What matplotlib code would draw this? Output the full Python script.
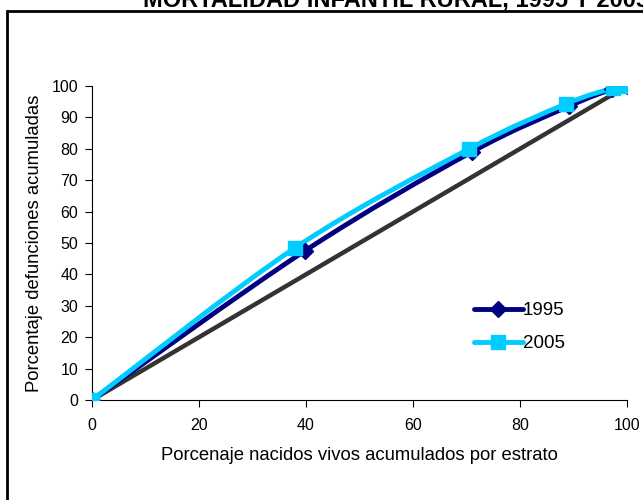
import numpy as np
import matplotlib
matplotlib.use('Agg')
import matplotlib.pyplot as plt
from matplotlib.path import Path
from matplotlib.patches import PathPatch, Rectangle
from matplotlib.lines import Line2D

plt.rcParams['font.family'] = ['Liberation Sans', 'DejaVu Sans']

# Cumulative births (x) vs cumulative infant deaths (y), by stratum
x_1995 = [0, 39.8, 71.0, 89.2, 97.2, 100]
y_1995 = [0, 47.5, 79.0, 93.6, 99.0, 100]
x_2005 = [0, 37.9, 70.5, 88.6, 97.4, 100]
y_2005 = [0, 48.4, 80.0, 94.3, 99.3, 100]
x_equal = [0, 100]
y_equal = [0, 100]

title = 'MORTALIDAD INFANTIL RURAL, 1995 Y 2005'
xlabel = 'Porcenaje nacidos vivos acumulados por estrato'
ylabel = 'Porcentaje defunciones acumuladas'


def smooth_path(xs, ys, tension=1 / 6):
    """Catmull-Rom style smoothing expressed as cubic Bezier segments."""
    pts = np.column_stack([xs, ys]).astype(float)
    verts = [pts[0]]
    codes = [Path.MOVETO]
    n = len(pts)
    for i in range(n - 1):
        p0 = pts[i - 1] if i > 0 else pts[i]
        p1 = pts[i]
        p2 = pts[i + 1]
        p3 = pts[i + 2] if i + 2 < n else pts[i + 1]
        c1 = p1 + (p2 - p0) * tension
        c2 = p2 - (p3 - p1) * tension
        verts += [c1, c2, p2]
        codes += [Path.CURVE4] * 3
    return Path(verts, codes)


fig = plt.figure(figsize=(6.43, 5.0), dpi=100)
ax = fig.add_axes([92 / 643, 100 / 500, 535 / 643, 314 / 500])

# equality line
ax.plot(x_equal, y_equal, color='#333333', lw=3.2, solid_capstyle='butt', zorder=2)

series = [
    (x_1995, y_1995, '#000080', 'D', 8, '1995'),
    (x_2005, y_2005, '#00CCFF', 's', 10, '2005'),
]
handles = []
for xs, ys, col, mk, ms, lab in series:
    patch = PathPatch(smooth_path(xs, ys), facecolor='none', edgecolor=col,
                      lw=3.5, zorder=3, capstyle='round')
    ax.add_patch(patch)
    ax.plot(xs, ys, ls='none', marker=mk, ms=ms, color=col, zorder=4)
    handles.append(Line2D([], [], color=col, lw=3.5, marker=mk, ms=ms,
                          solid_capstyle='round', label=lab))

ax.set_xlim(0, 100)
ax.set_ylim(0, 100)
ax.set_xticks(range(0, 101, 20))
ax.set_yticks(range(0, 101, 10))
ax.spines['top'].set_visible(False)
ax.spines['right'].set_visible(False)
for s in ('left', 'bottom'):
    ax.spines[s].set_color('#000000')
    ax.spines[s].set_linewidth(0.8)
ax.tick_params(direction='out', length=5, width=0.8, labelsize=11.5)
ax.tick_params(axis='x', pad=8)
ax.tick_params(axis='y', pad=5)
ax.set_xlabel(xlabel, fontsize=13.3, labelpad=10)
ax.set_ylabel(ylabel, fontsize=13.3, labelpad=6)

ax.legend(handles=handles, loc='upper left', bbox_to_anchor=(0.70, 0.335),
          frameon=False, fontsize=13.5, handlelength=2.6, handletextpad=0.0,
          labelspacing=0.85, borderaxespad=0)

# chart border, running off the right and bottom edges
top = 1 - 10.5 / 500
fig.patches.append(Rectangle((6.5 / 643, -0.1), 1.2, top + 0.1,
                             transform=fig.transFigure, fill=False,
                             edgecolor='black', lw=2))
fig.text(143 / 643, 1 - 6 / 500, title, ha='left', va='baseline',
         fontsize=17, fontweight='bold')

fig.savefig('out.png', dpi=100)
